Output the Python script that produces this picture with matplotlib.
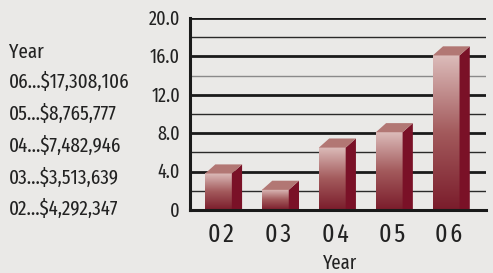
import numpy as np
import matplotlib
matplotlib.use("Agg")
import matplotlib.pyplot as plt
from matplotlib.colors import LinearSegmentedColormap
from matplotlib.patches import Polygon
from matplotlib.font_manager import FontProperties
from matplotlib.textpath import TextPath
from matplotlib.transforms import blended_transform_factory, offset_copy

# data
years = ["02", "03", "04", "05", "06"]
values = [3.8, 2.1, 6.5, 8.1, 16.1]   # front-face heights on the axis scale
yticks = [0, 4, 8, 12, 16, 20]
ytick_labels = ["0", "4.0", "8.0", "12.0", "16.0", "20.0"]
legend_title = "Year"
legend_lines = ["06...$17,308,106", "05...$8,765,777",
                "04...$7,482,946", "03...$3,513,639", "02...$4,292,347"]

BG = "#eae9e7"
TXT = "#222222"
FAM = ["Fira Sans Extra Condensed", "DejaVu Sans"]
plt.rcParams["font.family"] = FAM
fp = FontProperties(family=FAM, weight="normal")

def ink(s):
    # ink width/height of a string per 1px of font size
    e = TextPath((0, 0), s, size=100, prop=fp).get_extents()
    return e.width / 100, e.height / 100

def pt(px):
    return px * 72 / 100

W, H = 493, 273
fig = plt.figure(figsize=(W / 100, H / 100), dpi=100, facecolor=BG)
ax = fig.add_axes([190 / W, (H - 210) / H, (486 - 190) / W, 192 / H])
ax.set_facecolor(BG)

# gridlines: thick every 4, thin in between
for y in np.arange(2, 20, 4):
    c = "#8a8a8a" if y == 14 else "#2a2a2a"
    ax.axhline(y, color=c, lw=1.0, zorder=1)
for y in np.arange(4, 21, 4):
    ax.axhline(y, color="#1a1a1a", lw=2.0, zorder=1)

cmap = LinearSegmentedColormap.from_list("bar", ["#7a1c2b", "#a35a5c", "#dcbcba"])
grad = np.linspace(0, 1, 256).reshape(-1, 1)

bw = 0.47
dx = 0.18
dy = 0.95
for i, v in enumerate(values):
    x0, x1 = i - bw / 2, i + bw / 2
    ax.imshow(grad, cmap=cmap, origin="lower", aspect="auto",
              extent=(x0, x1, 0, v), zorder=3, interpolation="bilinear")
    ax.add_patch(Polygon([(x1, 0), (x1 + dx, 0), (x1 + dx, v + dy), (x1, v)],
                         facecolor="#7a1127", edgecolor="none", zorder=3))
    ax.add_patch(Polygon([(x0, v), (x0 + dx, v + dy), (x1 + dx, v + dy), (x1, v)],
                         facecolor="#b27774", edgecolor="none", zorder=3))

ax.set_xlim(-0.5, 4.7)
ax.set_ylim(0, 20)
ax.set_xticks([])
ax.set_yticks([])
for s in ["top", "right"]:
    ax.spines[s].set_visible(False)
for s in ["left", "bottom"]:
    ax.spines[s].set_linewidth(2.2)
    ax.spines[s].set_color("#1a1a1a")
    ax.spines[s].set_zorder(5)

# y tick labels, right edge 10px left of the axis
ysz = 30 / ink("20.0")[0]
ytr = offset_copy(blended_transform_factory(ax.transAxes, ax.transData), fig=fig,
                  x=pt(-10), y=pt(-ysz * ink("0")[1] / 2), units="points")
for v, lab in zip(yticks, ytick_labels):
    ax.text(0, v, lab, transform=ytr, ha="right", va="baseline",
            fontproperties=fp, fontsize=pt(ysz), color=TXT, clip_on=False)

# x tick labels
xsz = 18 / ink("02")[1]
xtr = offset_copy(blended_transform_factory(ax.transData, ax.transAxes), fig=fig,
                  y=pt(-31.5), units="points")
for i, lab in enumerate(years):
    ax.text(i + 0.05, 0, "\u200a".join(lab), transform=xtr, ha="center", va="baseline",
            fontproperties=fp, fontsize=pt(xsz), color=TXT, clip_on=False)

# axis title
tsz = 34 / ink("Year")[0]
fig.text(340 / W, 4 / H, "Year", ha="center", va="baseline",
         fontproperties=fp, fontsize=pt(tsz), color=TXT)

# value list on the left
lsz = 118 / ink(legend_lines[0])[0]
for t, yb in zip([legend_title] + legend_lines, [57.7, 88.3, 120, 151.7, 183.7, 215.5]):
    fig.text(9 / W, 1 - yb / H, t, ha="left", va="baseline",
             fontproperties=fp, fontsize=pt(lsz), color=TXT)

fig.savefig("out.png", dpi=100, facecolor=BG)
